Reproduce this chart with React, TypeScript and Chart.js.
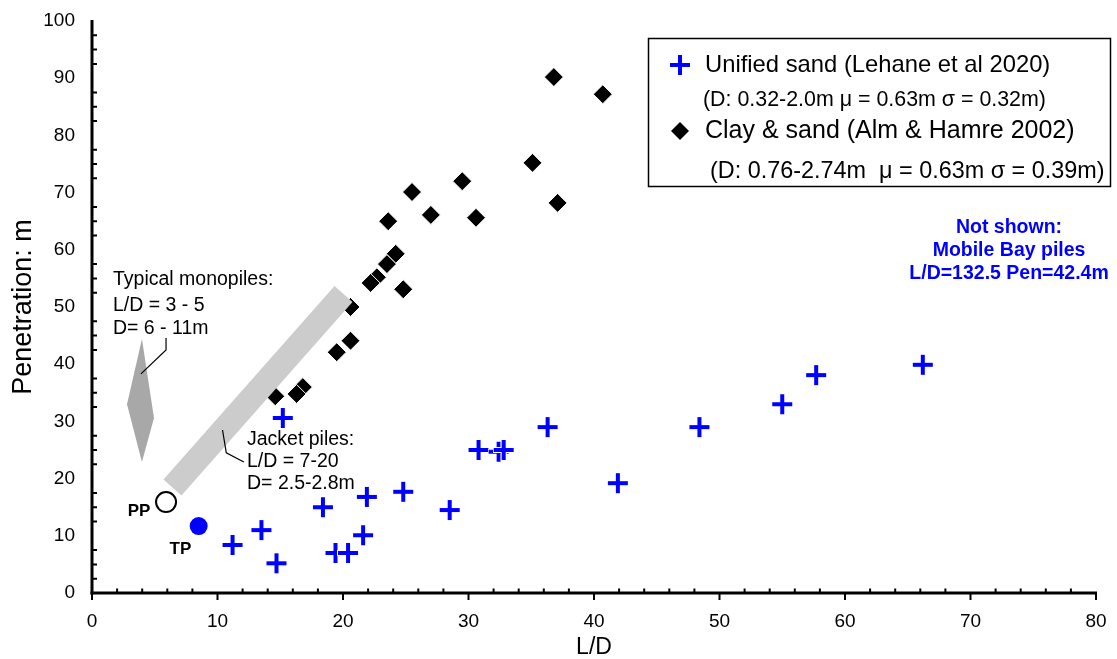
import React, { useEffect, useRef } from 'react';
import { Chart, registerables } from 'chart.js';

Chart.register(...registerables);

const FONT = "'Liberation Sans', Arial, Helvetica, sans-serif";

// ---- Data ----
// Unified sand (Lehane et al 2020)
const sandLD = [11.2, 13.5, 14.7, 15.2, 18.4, 19.4, 20.4, 21.6, 21.9, 24.8, 28.5, 30.8, 32.4, 32.8, 36.3, 41.9, 48.4, 55.0, 57.7, 66.2];
const sandPen = [8.4, 11.0, 5.2, 30.6, 15.0, 7.0, 7.0, 10.1, 16.8, 17.7, 14.5, 25.0, 24.7, 25.0, 29.0, 19.2, 29.0, 33.0, 38.1, 39.9];

// Clay & sand (Alm & Hamre 2002)
const clayLD = [36.8, 40.7, 35.1, 29.5, 25.5, 27.0, 30.6, 37.1, 23.6, 24.2, 23.5, 22.7, 22.2, 24.8, 20.6, 20.6, 19.5, 16.8, 16.3, 14.6];
const clayPen = [90.2, 87.2, 75.2, 72.0, 70.1, 66.1, 65.6, 68.2, 65.0, 59.3, 57.5, 55.2, 54.2, 53.1, 50.0, 44.1, 42.1, 36.0, 34.8, 34.4];

// PP and TP piles
const ppLD = [5.9];
const ppPen = [15.9];
const tpLD = [8.5];
const tpPen = [11.7];

// Jacket piles band (centre line ends)
const jacketLD = [6.41, 20.04];
const jacketPen = [18.44, 52.27];

// Typical monopiles region (outline)
const monoLD = [3.98, 4.94, 3.98, 2.79, 3.98];
const monoPen = [44.4, 30.6, 22.9, 33.0, 44.4];

// Axis ticks
const xTicks = [0, 10, 20, 30, 40, 50, 60, 70, 80];
const yTicks = [0, 10, 20, 30, 40, 50, 60, 70, 80, 90, 100];

// Annotation texts and anchor values
const monoText = ['Typical monopiles:', 'L/D = 3 - 5', 'D= 6 - 11m'];
const monoTextLD = 1.67;
const monoTextPen = [54.7, 50.3, 46.3];
const monoLeaderLD = [3.9, 5.9, 5.9];
const monoLeaderPen = [38.3, 42.5, 44.6];

const jacketText = ['Jacket piles:', 'L/D = 7-20', 'D= 2.5-2.8m'];
const jacketTextLD = 12.35;
const jacketTextPen = [26.75, 22.9, 19.2];
const jacketLeaderLD = [10.4, 10.7, 12.1];
const jacketLeaderPen = [28.5, 24.5, 22.9];

const noteText = ['Not shown:', 'Mobile Bay piles', 'L/D=132.5 Pen=42.4m'];
const noteLD = 73.07;
const notePen = [63.8, 59.8, 55.9];

const legendLines = [
  'Unified sand (Lehane et al 2020)',
  '(D: 0.32-2.0m \u03bc = 0.63m \u03c3 = 0.32m)',
  'Clay & sand (Alm & Hamre 2002)',
  '(D: 0.76-2.74m  \u03bc = 0.63m \u03c3 = 0.39m)',
];

const pts = (xs: number[], ys: number[]) => xs.map((x, i) => ({ x, y: ys[i] }));

function makeCrossImage(): HTMLCanvasElement {
  const c = document.createElement('canvas');
  c.width = 22;
  c.height = 22;
  const g = c.getContext('2d')!;
  g.fillStyle = '#ffffff';
  g.fillRect(0, 8, 22, 6);
  g.fillRect(8, 0, 6, 22);
  g.fillStyle = '#0000ff';
  g.fillRect(1, 9, 20, 4);
  g.fillRect(9, 1, 4, 20);
  return c;
}

export default function App() {
  const ref = useRef<HTMLCanvasElement | null>(null);

  useEffect(() => {
    document.body.style.margin = '0';
    const canvas = ref.current;
    if (!canvas) return;
    const crossImg = makeCrossImage();

    const decor = {
      id: 'decor',
      afterDraw(chart: any) {
        const { ctx } = chart;
        const xs = chart.scales.x;
        const ys = chart.scales.y;
        const px = (v: number) => xs.getPixelForValue(v);
        const py = (v: number) => ys.getPixelForValue(v);
        ctx.save();

        // axes
        ctx.strokeStyle = '#000';
        ctx.lineWidth = 3;
        ctx.lineCap = 'butt';
        ctx.beginPath();
        ctx.moveTo(px(0), py(100) - 1);
        ctx.lineTo(px(0), py(0) + 1.5);
        ctx.stroke();
        ctx.beginPath();
        ctx.moveTo(px(0) - 1.5, py(0));
        ctx.lineTo(px(80) + 1, py(0));
        ctx.stroke();

        // ticks
        ctx.lineWidth = 2;
        ctx.beginPath();
        for (let k = 1; k < 40; k++) {
          if (k % 4 === 0) continue;
          const yy = py(k * 2.5);
          ctx.moveTo(px(0), yy);
          ctx.lineTo(px(0) + 5, yy);
        }
        for (let k = 1; k < 40; k++) {
          if (k % 5 === 0) continue;
          const xx = px(k * 2);
          ctx.moveTo(xx, py(0));
          ctx.lineTo(xx, py(0) - 4.5);
        }
        xTicks.forEach((t) => {
          const xx = px(t);
          ctx.moveTo(xx, py(0));
          ctx.lineTo(xx, py(0) + 7);
        });
        ctx.stroke();

        // leader lines
        ctx.lineWidth = 1.2;
        ctx.beginPath();
        monoLeaderLD.forEach((v, i) => {
          const X = px(v), Y = py(monoLeaderPen[i]);
          if (i === 0) ctx.moveTo(X, Y); else ctx.lineTo(X, Y);
        });
        ctx.stroke();
        ctx.beginPath();
        jacketLeaderLD.forEach((v, i) => {
          const X = px(v), Y = py(jacketLeaderPen[i]);
          if (i === 0) ctx.moveTo(X, Y); else ctx.lineTo(X, Y);
        });
        ctx.stroke();

        // annotation texts
        ctx.fillStyle = '#000';
        ctx.textBaseline = 'middle';
        ctx.textAlign = 'left';
        ctx.font = `19.5px ${FONT}`;
        monoText.forEach((t, i) => ctx.fillText(t, px(monoTextLD), py(monoTextPen[i])));
        jacketText.forEach((t, i) => ctx.fillText(t, px(jacketTextLD), py(jacketTextPen[i])));

        ctx.font = `bold 17px ${FONT}`;
        ctx.textAlign = 'center';
        ctx.fillText('PP', px(3.75), py(14.2));
        ctx.fillText('TP', px(7.05), py(7.7));

        ctx.fillStyle = '#0000ff';
        ctx.font = `bold 19.5px ${FONT}`;
        noteText.forEach((t, i) => ctx.fillText(t, px(noteLD), py(notePen[i])));

        // legend box
        const L = 648, T = 38, R = 1110, B = 186;
        ctx.fillStyle = '#fff';
        ctx.fillRect(L, T, R - L, B - T);
        ctx.strokeStyle = '#000';
        ctx.lineWidth = 1.5;
        ctx.strokeRect(L + 0.5, T + 0.5, R - L, B - T);

        ctx.drawImage(crossImg, 680 - 11, 65 - 11);
        ctx.fillStyle = '#000';
        ctx.beginPath();
        ctx.moveTo(680 - 9, 131);
        ctx.lineTo(680, 131 - 9);
        ctx.lineTo(680 + 9, 131);
        ctx.lineTo(680, 131 + 9);
        ctx.closePath();
        ctx.fill();

        ctx.textAlign = 'left';
        ctx.fillStyle = '#000';
        const lx = [705, 703, 705, 710];
        const ly = [65, 100, 131, 172];
        const lsz = [23.8, 21.4, 25, 23.4];
        legendLines.forEach((t, i) => {
          ctx.font = `${lsz[i]}px ${FONT}`;
          ctx.fillText(t, lx[i], ly[i]);
        });

        ctx.restore();
      },
    };

    const chart = new Chart(canvas, {
      type: 'scatter',
      data: {
        datasets: [
          {
            label: 'Jacket piles',
            type: 'line',
            data: pts(jacketLD, jacketPen),
            showLine: true,
            borderColor: '#cccccc',
            borderWidth: 24,
            borderCapStyle: 'butt',
            pointRadius: 0,
            fill: false,
            order: 0,
          } as any,
          {
            label: 'Typical monopiles',
            type: 'line',
            data: pts(monoLD, monoPen),
            showLine: true,
            borderWidth: 0,
            borderColor: 'rgba(0,0,0,0)',
            backgroundColor: '#a8a8a8',
            fill: 'shape',
            pointRadius: 0,
            tension: 0,
            order: 0,
          } as any,
          {
            label: 'PP',
            data: pts(ppLD, ppPen),
            pointStyle: 'circle',
            pointRadius: 10,
            pointBorderWidth: 2,
            pointBorderColor: '#000',
            pointBackgroundColor: '#fff',
            order: 0,
          },
          {
            label: 'TP',
            data: pts(tpLD, tpPen),
            pointStyle: 'circle',
            pointRadius: 9,
            pointBorderWidth: 0,
            pointBorderColor: '#0000ff',
            pointBackgroundColor: '#0000ff',
            order: 0,
          },
          {
            label: 'Unified sand (Lehane et al 2020)',
            data: pts(sandLD, sandPen),
            pointStyle: crossImg,
            pointRadius: 10,
            order: 1,
          },
          {
            label: 'Clay & sand (Alm & Hamre 2002)',
            data: pts(clayLD, clayPen),
            pointStyle: 'rectRot',
            pointRadius: 9.5,
            pointBorderWidth: 1,
            pointBorderColor: '#ffffff',
            pointBackgroundColor: '#000000',
            order: 2,
          },
        ],
      },
      options: {
        animation: false,
        responsive: false,
        maintainAspectRatio: false,
        events: [],
        layout: { padding: { top: 21, right: 21, left: 0, bottom: 0 } },
        plugins: {
          legend: { display: false },
          tooltip: { enabled: false },
        },
        scales: {
          x: {
            type: 'linear',
            position: 'bottom',
            min: 0,
            max: 80,
            grid: { display: false, drawTicks: false, tickLength: 0 },
            border: { display: false },
            afterBuildTicks: (s: any) => {
              s.ticks = xTicks.map((v) => ({ value: v }));
            },
            ticks: {
              stepSize: 10,
              padding: 17,
              color: '#000',
              maxRotation: 0,
              autoSkip: false,
              font: { size: 19, family: FONT },
            },
            title: {
              display: true,
              text: 'L/D',
              color: '#000',
              font: { size: 23, family: FONT, lineHeight: 1 },
              padding: { top: 0, bottom: 0 },
            },
            afterFit: (s: any) => {
              s.height = 66;
              s.paddingLeft = 0;
              s.paddingRight = 0;
            },
          },
          y: {
            type: 'linear',
            position: 'left',
            min: 0,
            max: 100,
            grid: { display: false, drawTicks: false, tickLength: 0 },
            border: { display: false },
            afterBuildTicks: (s: any) => {
              s.ticks = yTicks.map((v) => ({ value: v }));
            },
            ticks: {
              stepSize: 10,
              padding: 17,
              color: '#000',
              autoSkip: false,
              font: { size: 19, family: FONT },
            },
            title: {
              display: true,
              text: 'Penetration: m',
              color: '#000',
              font: { size: 27, family: FONT, lineHeight: 1 },
              padding: { top: 10.5, bottom: 0 },
            },
            afterFit: (s: any) => {
              s.width = 92;
              s.paddingTop = 0;
              s.paddingBottom = 0;
            },
          },
        },
      },
      plugins: [decor],
    } as any);

    return () => chart.destroy();
  }, []);

  return (
    <div style={{ width: 1117, height: 659 }}>
      <canvas ref={ref} width={1117} height={659} style={{ display: 'block' }} />
    </div>
  );
}
